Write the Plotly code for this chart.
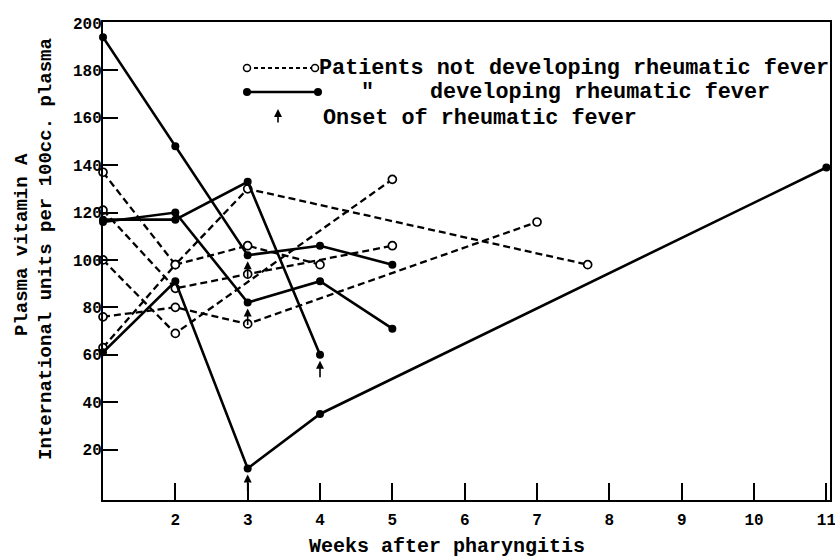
import plotly.graph_objects as go

# ---------------- data ----------------
# Patients NOT developing rheumatic fever (open circles, dashed)
nd_weeks = [[1, 2, 3, 7.7], [1, 2, 3, 5], [1, 2, 5], [1, 2, 3, 7], [1, 2, 3, 4]]
nd_values = [[137, 98, 130, 98], [121, 88, 94, 106], [100, 69, 134], [76, 80, 73, 116], [63, 98, 106, 98]]

# Patients developing rheumatic fever (filled dots, solid)
d_weeks = [[1, 2, 3, 4, 5], [1, 2, 3, 4], [1, 2, 3, 4, 5], [1, 2, 3, 4, 11]]
d_values = [[194, 148, 102, 106, 98], [117, 117, 133, 60], [116, 120, 82, 91, 71], [61, 91, 12, 35, 139]]

# Onset of rheumatic fever (arrows)
onset_weeks = [3, 3, 3, 4]
onset_values = [102, 82, 12, 60]

x_ticks = [2, 3, 4, 5, 6, 7, 8, 9, 10, 11]
y_ticks = [20, 40, 60, 80, 100, 120, 140, 160, 180, 200]

FONT = "Liberation Mono"
W, H = 835, 560
L, R, T, B = 103, 5, 22, 60
pw, ph = W - L - R, H - T - B


def px(xp):
    return (xp - L) / pw


def py(yp):
    return (H - B - yp) / ph


fig = go.Figure()

for wx, vy in zip(nd_weeks, nd_values):
    fig.add_trace(go.Scatter(
        x=wx, y=vy, mode="lines+markers", cliponaxis=False,
        line=dict(color="black", width=2.3, dash="7px,4px"),
        marker=dict(symbol="circle", size=8, color="white",
                    line=dict(color="black", width=1.7)),
        showlegend=False, hoverinfo="x+y"))

for wx, vy in zip(d_weeks, d_values):
    fig.add_trace(go.Scatter(
        x=wx, y=vy, mode="lines+markers", cliponaxis=False,
        line=dict(color="black", width=2.6),
        marker=dict(symbol="circle", size=8, color="black"),
        showlegend=False, hoverinfo="x+y"))

annotations = []
for wx, vy in zip(onset_weeks, onset_values):
    annotations.append(dict(
        x=wx, y=vy, xref="x", yref="y", text="", showarrow=True,
        ax=0, ay=24, axref="pixel", ayref="pixel", standoff=6,
        arrowhead=2, arrowsize=1, arrowwidth=1.6, arrowcolor="black"))

# ---------------- legend (drawn on an overlay axis) ----------------
fig.add_trace(go.Scatter(
    x=[px(247), px(315)], y=[py(68), py(68)], xaxis="x2", yaxis="y2",
    mode="lines+markers", cliponaxis=False,
    line=dict(color="black", width=2, dash="4px,3px"),
    marker=dict(symbol="circle", size=7, color="white", line=dict(color="black", width=1.5)),
    showlegend=False, hoverinfo="skip"))
fig.add_trace(go.Scatter(
    x=[px(247), px(318)], y=[py(92), py(92)], xaxis="x2", yaxis="y2",
    mode="lines+markers", cliponaxis=False,
    line=dict(color="black", width=2.6),
    marker=dict(symbol="circle", size=8, color="black"),
    showlegend=False, hoverinfo="skip"))

annotations.append(dict(x=px(278), y=py(109), xref="x2", yref="y2", text="", showarrow=True,
                        ax=0, ay=15, arrowhead=2, arrowsize=1, arrowwidth=1.6, arrowcolor="black"))

leg_font = dict(family=FONT, size=21.8, color="black", weight="bold")
annotations += [
    dict(x=px(317), y=py(68), xref="x2", yref="y2", xanchor="left", yanchor="middle",
         text="Patients not developing rheumatic fever", showarrow=False, font=leg_font),
    dict(x=px(367), y=py(92), xref="x2", yref="y2", xanchor="center", yanchor="middle",
         text="\"", showarrow=False, font=leg_font),
    dict(x=px(428), y=py(92), xref="x2", yref="y2", xanchor="left", yanchor="middle",
         text="developing rheumatic fever", showarrow=False, font=leg_font),
    dict(x=px(321), y=py(118), xref="x2", yref="y2", xanchor="left", yanchor="middle",
         text="Onset of rheumatic fever", showarrow=False, font=leg_font),
]

# axis titles
title_font = dict(family=FONT, size=19, color="black", weight="bold")
annotations += [
    dict(x=px(447), y=py(546), xref="paper", yref="paper", xanchor="center", yanchor="middle",
         text="Weeks after pharyngitis", showarrow=False,
         font=dict(family=FONT, size=20, color="black", weight="bold")),
    dict(x=px(22), y=py(245), xref="paper", yref="paper", xanchor="center", yanchor="middle",
         text="Plasma vitamin A", textangle=-90, showarrow=False, font=title_font),
    dict(x=px(46), y=py(249), xref="paper", yref="paper", xanchor="center", yanchor="middle",
         text="International units per 100cc. plasma", textangle=-90,
         showarrow=False, font=title_font),
]

tick_font = dict(family=FONT, size=16, color="black", weight="bold")
fig.update_layout(
    annotations=annotations,
    width=W, height=H,
    margin=dict(l=L, r=R, t=T, b=B, pad=0),
    paper_bgcolor="white", plot_bgcolor="white",
    xaxis=dict(range=[1, 11.05], tickvals=x_ticks, ticktext=[str(v) for v in x_ticks],
               ticks="inside", ticklen=17, tickwidth=2, tickcolor="black",
               showline=True, linecolor="black", linewidth=2, mirror=True, automargin=False,
               showgrid=False, zeroline=False, tickfont=tick_font, ticklabelstandoff=4,
               ticklabeloverflow="allow"),
    yaxis=dict(range=[-1.3, 200.4], tickvals=y_ticks, ticktext=[str(v) for v in y_ticks],
               ticks="inside", ticklen=15, tickwidth=2, tickcolor="black",
               showline=True, linecolor="black", linewidth=2, mirror=True, automargin=False,
               showgrid=False, zeroline=False, tickfont=tick_font, ticklabelstandoff=-4,
               ticklabeloverflow="allow"),
    xaxis2=dict(overlaying="x", range=[0, 1], visible=False, automargin=False),
    yaxis2=dict(overlaying="y", range=[0, 1], visible=False, automargin=False),
)

fig.write_html("out.html", config={"displayModeBar": False},
               post_script="document.body.style.margin='0px';document.body.style.overflow='hidden';")
